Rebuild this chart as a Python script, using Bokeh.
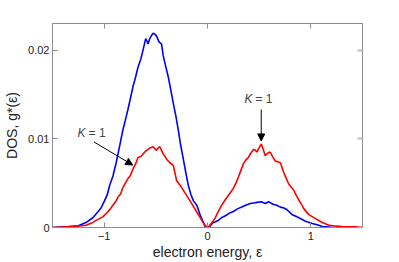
from bokeh.plotting import figure
from bokeh.models import Range1d, LinearAxis, FixedTicker, Label, Arrow, NormalHead
from bokeh.embed import file_html
from bokeh.resources import INLINE

blue_x = [-1.5, -1.35, -1.25, -1.176, -1.11, -1.062, -1.03, -0.997, -0.97, -0.948, -0.915, -0.884,
          -0.85, -0.819, -0.795, -0.77, -0.745, -0.721, -0.695, -0.672, -0.645, -0.624, -0.598,
          -0.585, -0.575, -0.559, -0.54, -0.526, -0.51, -0.494, -0.468, -0.445, -0.429, -0.405,
          -0.38, -0.355, -0.331, -0.305, -0.283, -0.26, -0.234, -0.21, -0.185, -0.16, -0.136,
          -0.104, -0.085, -0.071, -0.045, -0.023, 0.0, 0.02, 0.05, 0.104, 0.135, 0.169, 0.21,
          0.25, 0.29, 0.331, 0.37, 0.413, 0.465, 0.52, 0.559, 0.591, 0.64, 0.67, 0.705, 0.74,
          0.77, 0.819, 0.85, 0.884, 0.948, 1.014, 1.06, 1.111, 1.2, 1.5]
blue_y = [0, 0.0001, 0.0002, 0.00056, 0.0011, 0.00175, 0.0022, 0.003, 0.0037, 0.0047, 0.0058, 0.0073,
          0.0092, 0.011, 0.0121, 0.0133, 0.0146, 0.0159, 0.0170, 0.0181, 0.0190, 0.0200, 0.0213,
          0.0210, 0.0207, 0.0213, 0.0217, 0.0219, 0.0218, 0.0216, 0.0209, 0.0207, 0.0194, 0.0182,
          0.0170, 0.0155, 0.0140, 0.0125, 0.0110, 0.0093, 0.0077, 0.0062, 0.0047, 0.0037, 0.0030,
          0.0025, 0.0019, 0.0014, 0.0007, 0.0001, 0.0, 0.0001, 0.0005, 0.0008, 0.0011, 0.0013, 0.0016,
          0.0018, 0.0021, 0.0023, 0.0025, 0.0027, 0.0028, 0.0029, 0.0027, 0.0029, 0.0026, 0.0025,
          0.0023, 0.0022, 0.0020, 0.00145, 0.0013, 0.0011, 0.0007, 0.00045, 0.0003, 0.0001, 0.00003, 0.0]

red_x = [-1.5, -1.3, -1.176, -1.12, -1.078, -1.014, -0.965, -0.94, -0.916, -0.89, -0.867, -0.84,
         -0.819, -0.795, -0.77, -0.745, -0.721, -0.695, -0.672, -0.645, -0.624, -0.6, -0.575,
         -0.55, -0.526, -0.494, -0.475, -0.461, -0.445, -0.429, -0.41, -0.396, -0.38, -0.364,
         -0.331, -0.299, -0.275, -0.25, -0.201, -0.153, -0.104, -0.055, -0.02, 0.0, 0.006, 0.04,
         0.071, 0.1, 0.136, 0.17, 0.201, 0.25, 0.275, 0.299, 0.325, 0.348, 0.37, 0.396, 0.42,
         0.445, 0.465, 0.478, 0.5, 0.52, 0.54, 0.559, 0.585, 0.607, 0.63, 0.656, 0.705, 0.738,
         0.76, 0.786, 0.835, 0.86, 0.884, 0.91, 0.933, 0.981, 1.046, 1.111, 1.176, 1.25, 1.306, 1.5]
red_y = [0, 0.0001, 0.00026, 0.0005, 0.0008, 0.0012, 0.00175, 0.0021, 0.0025, 0.0029, 0.0034, 0.0038,
         0.0045, 0.0050, 0.0055, 0.0059, 0.0066, 0.0072, 0.0079, 0.0080, 0.0083, 0.0086, 0.0088,
         0.0090, 0.0091, 0.0087, 0.0090, 0.0091, 0.0087, 0.0083, 0.0080, 0.0077, 0.0075, 0.0073,
         0.0070, 0.0053, 0.0049, 0.0045, 0.0036, 0.0027, 0.00175, 0.0008, 0.0002, 0.0, 0.0, 0.0005,
         0.001, 0.0017, 0.0025, 0.0031, 0.0036, 0.0044, 0.0050, 0.0057, 0.0065, 0.0072, 0.0076, 0.0079, 0.0084,
         0.0088, 0.0087, 0.0085, 0.0090, 0.0094, 0.0088, 0.0081, 0.0084, 0.0085, 0.0080, 0.0075, 0.0073, 0.0062,
         0.0056, 0.0049, 0.0042, 0.0036, 0.0031, 0.0026, 0.0021, 0.00145, 0.0010, 0.00056, 0.00026, 0.00015, 0.0001, 0.00005]

x_ticks = [-1, 0, 1]
x_tick_labels = ["\u22121", "0", "1"]
y_ticks = [0, 0.01, 0.02]
y_tick_labels = ["0", "0.01", "0.02"]

FONT = "Liberation Sans"
GREY = "#8c8c8c"

p = figure(width=399, height=262, output_backend="svg", toolbar_location=None,
           x_range=Range1d(-1.5, 1.5), y_range=Range1d(0, 0.023),
           min_border_left=52, min_border_right=37, min_border_top=23, min_border_bottom=33)
p.background_fill_color = "white"
p.border_fill_color = "white"
p.outline_line_color = GREY
p.xgrid.visible = False
p.ygrid.visible = False

p.line(blue_x, blue_y, line_color="#0000ff", line_width=1.6)
p.line(red_x, red_y, line_color="#ff0000", line_width=1.6)

top = LinearAxis()
right = LinearAxis()
p.add_layout(top, "above")
p.add_layout(right, "right")

for ax in p.xaxis:
    ax.ticker = FixedTicker(ticks=x_ticks)
for ax in p.yaxis:
    ax.ticker = FixedTicker(ticks=y_ticks)

for ax in p.xaxis + p.yaxis:
    ax.axis_line_color = GREY
    ax.major_tick_line_color = GREY
    ax.major_tick_in = 5
    ax.major_tick_out = 0
    ax.minor_tick_line_color = None
    ax.major_label_text_font = FONT
    ax.major_label_text_font_size = "11px"
    ax.major_label_text_color = "#222222"
    ax.axis_label_text_font = FONT
    ax.axis_label_text_font_style = "normal"
    ax.axis_label_text_font_size = "14px"
    ax.axis_label_text_color = "#222222"

top.major_label_text_color = None
right.major_label_text_color = None
top.major_label_standoff = 0
right.major_label_standoff = 0
right.major_tick_line_color = "#bbbbbb"
right.major_tick_line_width = 2

bottom = p.below[0]
left = p.left[0]
bottom.major_label_overrides = {t: s for t, s in zip(x_ticks, x_tick_labels)}
left.major_label_overrides = {t: s for t, s in zip(y_ticks, y_tick_labels)}
bottom.axis_label = "electron energy, \u03b5"
left.axis_label = "DOS, g*(\u03b5)"
bottom.major_label_standoff = 4
bottom.axis_label_standoff = 1
left.major_label_standoff = 3
left.axis_label_standoff = 5

# annotations
p.add_layout(Label(x=-1.257, y=0.0106, text="K", text_font=FONT, text_font_style="italic",
                   text_font_size="12px", text_baseline="middle", text_align="left"))
p.add_layout(Label(x=-1.257, y=0.0106, x_offset=11, text="= 1", text_font=FONT,
                   text_font_size="12px", text_baseline="middle", text_align="left"))
p.add_layout(Label(x=0.358, y=0.01453, text="K", text_font=FONT, text_font_style="italic",
                   text_font_size="12px", text_baseline="middle", text_align="left"))
p.add_layout(Label(x=0.358, y=0.01453, x_offset=11, text="= 1", text_font=FONT,
                   text_font_size="12px", text_baseline="middle", text_align="left"))

p.add_layout(Arrow(end=NormalHead(size=7, fill_color="black", line_color="black"),
                   x_start=-1.098, y_start=0.00964, x_end=-0.724, y_end=0.00704,
                   line_color="black", line_width=1))
p.add_layout(Arrow(end=NormalHead(size=7, fill_color="black", line_color="black"),
                   x_start=0.52, y_start=0.0133, x_end=0.52, y_end=0.00976,
                   line_color="black", line_width=1))

open("out.html", "w").write(file_html(p, INLINE))
